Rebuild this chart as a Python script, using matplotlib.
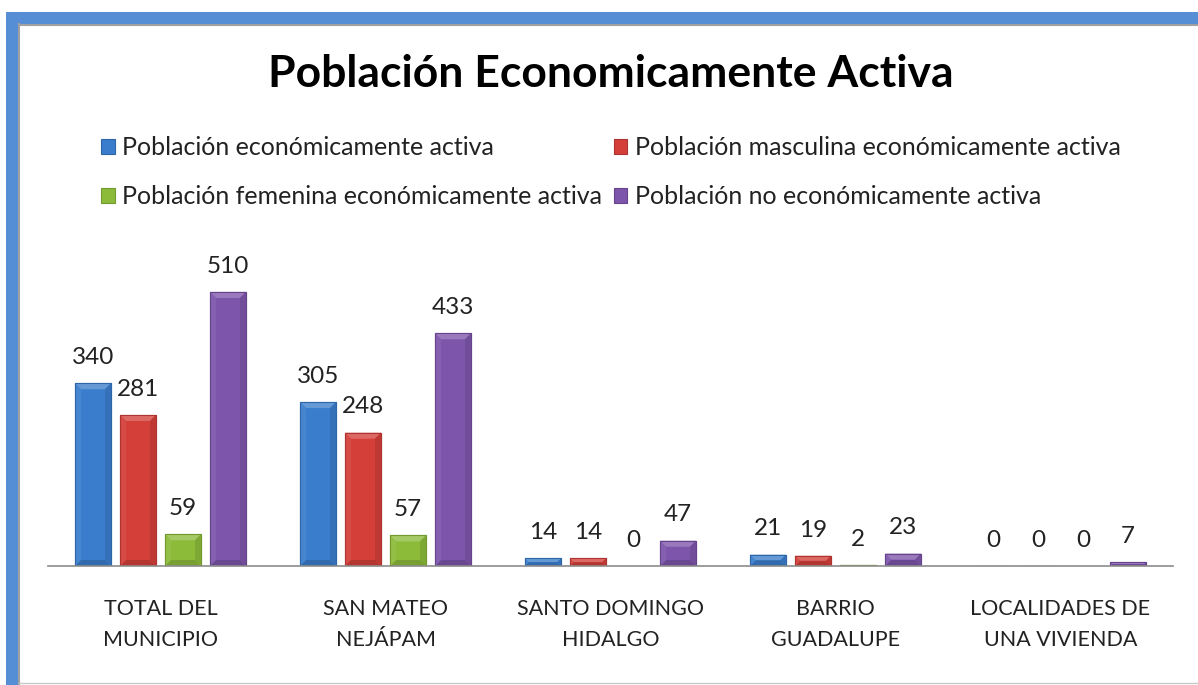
import matplotlib
matplotlib.use("Agg")
import matplotlib.pyplot as plt
from matplotlib.patches import Rectangle, Polygon
from matplotlib.transforms import IdentityTransform
import matplotlib.colors as mcolors
import numpy as np

categories = ["TOTAL DEL\nMUNICIPIO", "SAN MATEO\nNEJÁPAM", "SANTO DOMINGO\nHIDALGO",
              "BARRIO\nGUADALUPE", "LOCALIDADES DE\nUNA VIVIENDA"]
series_names = ["Población económicamente activa",
                "Población masculina económicamente activa",
                "Población femenina económicamente activa",
                "Población no económicamente activa"]
pea = [340, 305, 14, 21, 0]
pea_masc = [281, 248, 14, 19, 0]
pea_fem = [59, 57, 0, 2, 0]
pnea = [510, 433, 47, 23, 7]
title = "Población Economicamente Activa"

series = [pea, pea_masc, pea_fem, pnea]
colors = ["#3a7dcc", "#d43f3a", "#8cbb3a", "#7d55ab"]
edges = ["#2f66a8", "#ad3430", "#729a2f", "#65448c"]


def shade(c, f):
    r, g, b = mcolors.to_rgb(c)
    if f > 0:
        return (r + (1 - r) * f, g + (1 - g) * f, b + (1 - b) * f)
    return (r * (1 + f), g * (1 + f), b * (1 + f))


W, H = 1198, 685
fig = plt.figure(figsize=(W / 100, H / 100), dpi=100)
fig.patch.set_facecolor("white")

FONT = ["Lato", "DejaVu Sans"]

# chart frame
fig.patches.append(Rectangle((6 / W, 0), 12 / W, 1 - 12 / H, transform=fig.transFigure,
                             facecolor="#558ed5", edgecolor="none", zorder=0))
fig.patches.append(Rectangle((6 / W, 1 - 24 / H), 1, 12 / H, transform=fig.transFigure,
                             facecolor="#558ed5", edgecolor="none", zorder=0))
fig.add_artist(plt.Line2D([19 / W, 1], [1 - 24.5 / H, 1 - 24.5 / H], transform=fig.transFigure,
                          color="#a0a0a0", lw=1.5))
fig.add_artist(plt.Line2D([18.8 / W, 18.8 / W], [0, 1 - 24 / H], transform=fig.transFigure,
                          color="#a0a0a0", lw=1.5))
fig.add_artist(plt.Line2D([19 / W, 1], [1 - 683 / H, 1 - 683 / H], transform=fig.transFigure,
                          color="#c8c8c8", lw=1))

ax = fig.add_axes([48 / W, (H - 566) / H, 1125 / W, 316 / H])
ax.set_facecolor("none")

x = np.arange(len(categories))
width = 0.16
offsets = [-0.3, -0.1, 0.1, 0.3]

ax.set_xlim(-0.5, len(categories) - 0.5)
ax.set_ylim(0, 588)

handles = []
for vals, off, c, ec, name in zip(series, offsets, colors, edges, series_names):
    bars = ax.bar(x + off, vals, width, color=c, edgecolor=ec, linewidth=0.8, label=name, zorder=3)
    handles.append(bars)
    ax.bar_label(bars, labels=[str(v) for v in vals], padding=11, fontsize=17.5,
                 color="#222222", family=FONT)
    # soft bevel effect derived from each bar's geometry
    for r in bars:
        h = r.get_height()
        if h <= 0:
            continue
        (x0, y0) = ax.transData.transform((r.get_x(), 0))
        (x1, y1) = ax.transData.transform((r.get_x() + r.get_width(), h))
        b = min(6.0, (y1 - y0) / 2.0)
        polys = [
            ([(x0, y1), (x1, y1), (x1 - b, y1 - b), (x0 + b, y1 - b)], shade(c, 0.22)),
            ([(x0, y0), (x1, y0), (x1 - b, y0 + b), (x0 + b, y0 + b)], shade(c, -0.15)),
            ([(x0, y0), (x0, y1), (x0 + b, y1 - b), (x0 + b, y0 + b)], shade(c, 0.06)),
            ([(x1, y0), (x1, y1), (x1 - b, y1 - b), (x1 - b, y0 + b)], shade(c, -0.1)),
        ]
        for pts, col in polys:
            ax.add_patch(Polygon(pts, closed=True, transform=IdentityTransform(),
                                 facecolor=col, edgecolor="none", zorder=4))
        ax.add_patch(Rectangle((x0, y0), x1 - x0, y1 - y0, transform=IdentityTransform(),
                               facecolor="none", edgecolor=ec, lw=0.8, zorder=5))

for s in ["top", "right", "left"]:
    ax.spines[s].set_visible(False)
ax.spines["bottom"].set_color("#8c8c8c")
ax.spines["bottom"].set_linewidth(1.2)
ax.spines["bottom"].set_zorder(6)
ax.set_yticks([])
ax.set_xticks(x)
ax.set_xticklabels(categories, fontsize=15.5, family=FONT, color="#222222", linespacing=1.65)
ax.tick_params(axis="x", length=0, pad=24)

fig.text(611 / W, 1 - 87 / H, title, ha="center", va="baseline", fontsize=32,
         fontweight="bold", family=FONT, color="black")

order = [0, 2, 1, 3]
leg = fig.legend([handles[i] for i in order], [series_names[i] for i in order],
                 ncol=2, loc="upper left", bbox_to_anchor=(101 / W, 1 - 136 / H),
                 frameon=False, prop={"family": FONT, "size": 18},
                 handlelength=0.55, handleheight=0.55, handletextpad=0.3,
                 columnspacing=0.45, labelspacing=1.05, borderaxespad=0, borderpad=0)
for t in leg.get_texts():
    t.set_color("#222222")

fig.savefig("out.png", dpi=100)
